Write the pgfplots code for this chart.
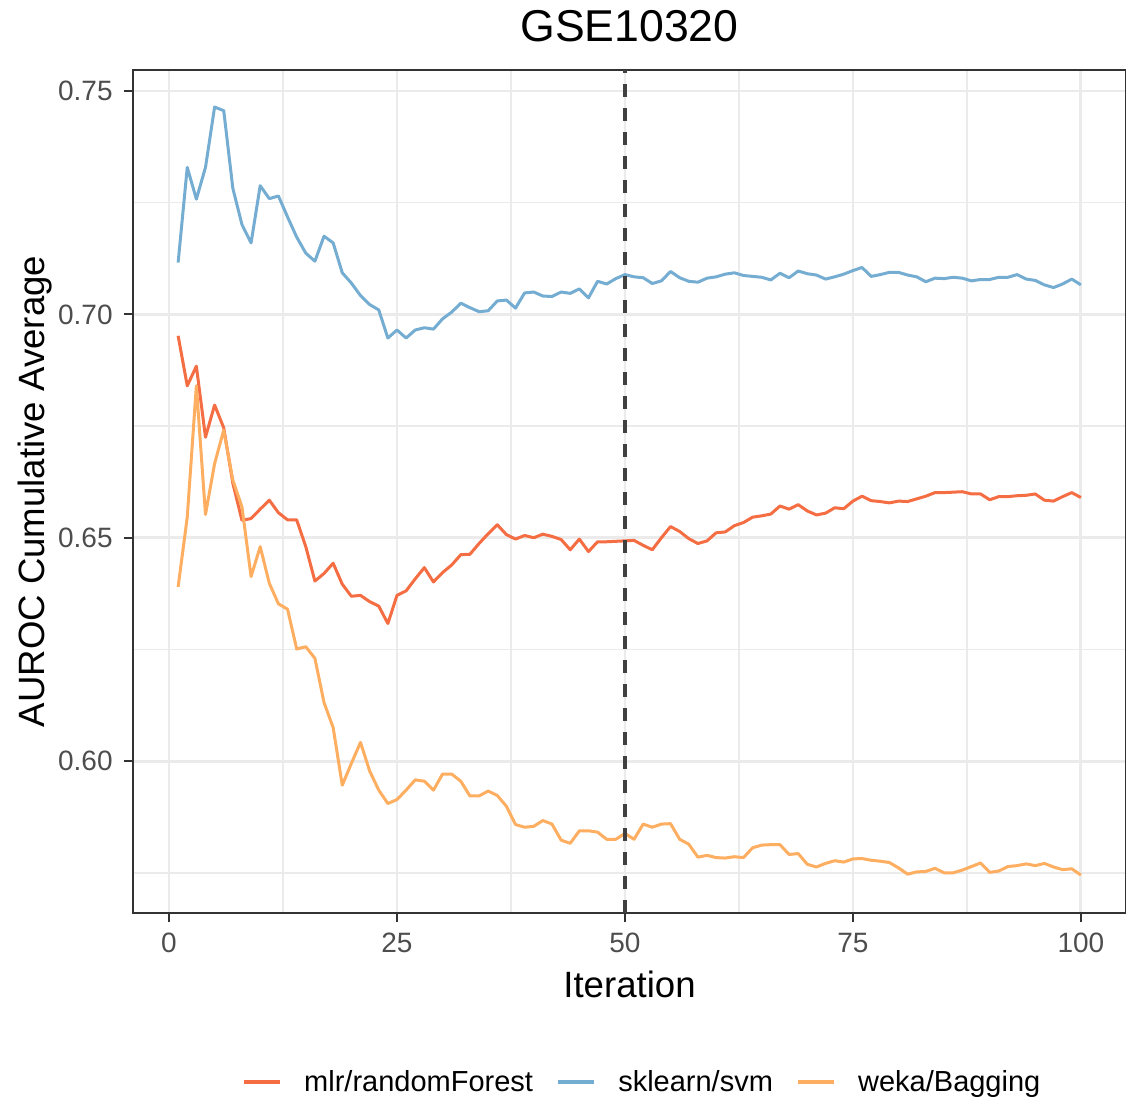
\documentclass[border=0pt]{standalone}
\usepackage{fontspec}
\setmainfont{Liberation Sans}
\usepackage{pgfplots}
\usepackage{pgfplotstable}
\pgfplotsset{compat=1.18}

\definecolor{cMLR}{HTML}{F46D43}
\definecolor{cSVM}{HTML}{74ADD1}
\definecolor{cWEKA}{HTML}{FDAE61}
\definecolor{gridgray}{HTML}{EBEBEB}
\definecolor{framegray}{HTML}{333333}
\definecolor{ticktext}{HTML}{4D4D4D}
\definecolor{vlinegray}{HTML}{404040}

% cumulative average AUROC per iteration
\pgfplotstableread{
iter mlr svm weka
1 0.6952 0.7116 0.6390
2 0.6840 0.7329 0.6546
3 0.6884 0.7258 0.6840
4 0.6725 0.7329 0.6552
5 0.6797 0.7464 0.6666
6 0.6746 0.7456 0.6741
7 0.6622 0.7282 0.6629
8 0.6539 0.7201 0.6569
9 0.6543 0.7160 0.6413
10 0.6564 0.7288 0.6480
11 0.6584 0.7259 0.6398
12 0.6556 0.7265 0.6352
13 0.6540 0.7218 0.6340
14 0.6540 0.7173 0.6251
15 0.6480 0.7137 0.6256
16 0.6403 0.7119 0.6230
17 0.6420 0.7175 0.6131
18 0.6443 0.7160 0.6075
19 0.6396 0.7093 0.5946
20 0.6369 0.7070 0.5995
21 0.6371 0.7042 0.6042
22 0.6357 0.7022 0.5978
23 0.6347 0.7010 0.5935
24 0.6308 0.6947 0.5905
25 0.6371 0.6965 0.5914
26 0.6381 0.6947 0.5935
27 0.6408 0.6965 0.5958
28 0.6433 0.6970 0.5955
29 0.6401 0.6967 0.5935
30 0.6422 0.6990 0.5971
31 0.6439 0.7005 0.5971
32 0.6462 0.7025 0.5955
33 0.6463 0.7015 0.5922
34 0.6487 0.7006 0.5922
35 0.6509 0.7008 0.5933
36 0.6529 0.7030 0.5923
37 0.6507 0.7032 0.5899
38 0.6497 0.7014 0.5858
39 0.6505 0.7048 0.5852
40 0.6500 0.7050 0.5854
41 0.6508 0.7041 0.5867
42 0.6503 0.7040 0.5859
43 0.6496 0.7050 0.5823
44 0.6473 0.7047 0.5816
45 0.6497 0.7057 0.5844
46 0.6469 0.7037 0.5844
47 0.6491 0.7074 0.5841
48 0.6491 0.7068 0.5825
49 0.6492 0.7080 0.5825
50 0.6493 0.7089 0.5838
51 0.6494 0.7084 0.5825
52 0.6483 0.7082 0.5859
53 0.6473 0.7069 0.5852
54 0.6500 0.7075 0.5859
55 0.6525 0.7096 0.5860
56 0.6514 0.7082 0.5825
57 0.6498 0.7074 0.5814
58 0.6487 0.7072 0.5785
59 0.6493 0.7081 0.5789
60 0.6511 0.7084 0.5784
61 0.6513 0.7090 0.5783
62 0.6527 0.7093 0.5786
63 0.6534 0.7087 0.5784
64 0.6546 0.7085 0.5806
65 0.6549 0.7083 0.5812
66 0.6553 0.7077 0.5813
67 0.6571 0.7092 0.5813
68 0.6564 0.7082 0.5791
69 0.6574 0.7097 0.5793
70 0.6560 0.7091 0.5769
71 0.6551 0.7088 0.5763
72 0.6555 0.7079 0.5771
73 0.6567 0.7084 0.5777
74 0.6565 0.7090 0.5774
75 0.6582 0.7098 0.5781
76 0.6593 0.7105 0.5782
77 0.6583 0.7085 0.5778
78 0.6581 0.7089 0.5776
79 0.6578 0.7094 0.5773
80 0.6582 0.7094 0.5761
81 0.6581 0.7088 0.5747
82 0.6587 0.7084 0.5752
83 0.6593 0.7073 0.5753
84 0.6601 0.7081 0.5760
85 0.6601 0.7080 0.5750
86 0.6602 0.7083 0.5750
87 0.6603 0.7081 0.5756
88 0.6598 0.7075 0.5764
89 0.6598 0.7078 0.5772
90 0.6585 0.7078 0.5751
91 0.6592 0.7083 0.5754
92 0.6592 0.7083 0.5764
93 0.6594 0.7089 0.5766
94 0.6595 0.7079 0.5770
95 0.6598 0.7076 0.5766
96 0.6584 0.7066 0.5771
97 0.6582 0.7060 0.5763
98 0.6592 0.7068 0.5757
99 0.6601 0.7079 0.5759
100 0.6590 0.7066 0.5745
}\aurocdata

\begin{document}
\begin{tikzpicture}
\begin{axis}[
  at={(0,0)}, anchor=south west,
  scale only axis,
  width=496.5bp, height=421.5bp,
  xmin=-3.95, xmax=104.95,
  ymin=0.5660, ymax=0.7547,
  axis line style={framegray, line width=1.1bp},
  xtick={0,25,50,75,100},
  minor xtick={12.5,37.5,62.5,87.5},
  ytick={0.60,0.65,0.70,0.75},
  minor ytick={0.575,0.625,0.675,0.725},
  grid=both,
  major grid style={gridgray, line width=1.4bp},
  minor grid style={gridgray, line width=0.8bp},
  tickpos=left,
  tick align=outside,
  major tick length=4.6bp,
  minor tick length=0pt,
  tick style={framegray, line width=1.1bp},
  /pgf/number format/assume math mode=true,
  yticklabel style={/pgf/number format/fixed, /pgf/number format/fixed zerofill,
    /pgf/number format/precision=2, font=\fontsize{14bp}{16bp}\selectfont,
    text=ticktext, anchor=east, inner sep=0pt, xshift=-5.4bp},
  xticklabel style={font=\fontsize{14bp}{16bp}\selectfont, text=ticktext,
    anchor=north, inner sep=0pt, yshift=-5.4bp},
  title={GSE10320},
  title style={at={(axis description cs:0.5,1)}, anchor=base, yshift=8.5bp,
    font=\fontsize{22.3bp}{26bp}\selectfont, inner sep=0pt},
  xlabel={Iteration},
  xlabel style={at={(axis description cs:0.5,0)}, anchor=base, yshift=-42bp,
    font=\fontsize{18.3bp}{22bp}\selectfont, inner sep=0pt},
  ylabel={AUROC Cumulative Average},
  every axis y label/.style={at={(axis description cs:0,0.5)}, xshift=-44bp,
    rotate=90, anchor=base, font=\fontsize{18.3bp}{22bp}\selectfont, inner sep=0pt},
  legend columns=3,
  legend style={draw=none, fill=none, inner sep=0pt, outer sep=0pt,
    at={(axis description cs:0.1098,-0.2005)}, anchor=west,
    font=\fontsize{14.5bp}{17bp}\selectfont,
    nodes={inner sep=0pt},
    /tikz/every odd column/.append style={column sep=11.5bp},
    /tikz/every even column/.append style={column sep=11.5bp}},
  legend cell align=left,
  legend image code/.code={\draw[#1, line width=1.6bp] (0bp,0bp) -- (18bp,0bp);},
  every axis plot/.append style={line width=1.5bp, line join=round},
]
\addplot[cMLR, no markers] table[x=iter, y=mlr] {\aurocdata};
\addlegendentry{mlr/randomForest}
\addplot[cSVM, no markers] table[x=iter, y=svm] {\aurocdata};
\addlegendentry{sklearn/svm}
\addplot[cWEKA, no markers] table[x=iter, y=weka] {\aurocdata};
\addlegendentry{weka/Bagging}
% reference line at iteration 50
\addplot[vlinegray, no markers, forget plot, line width=1.6bp,
  dash pattern=on 6.5bp off 5.5bp]
  coordinates {(50,0.5660) (50,0.7547)};
\end{axis}
\pgfresetboundingbox
\useasboundingbox (-66.5bp,-93bp) rectangle (496.5bp,456.5bp);
\end{tikzpicture}
\end{document}
